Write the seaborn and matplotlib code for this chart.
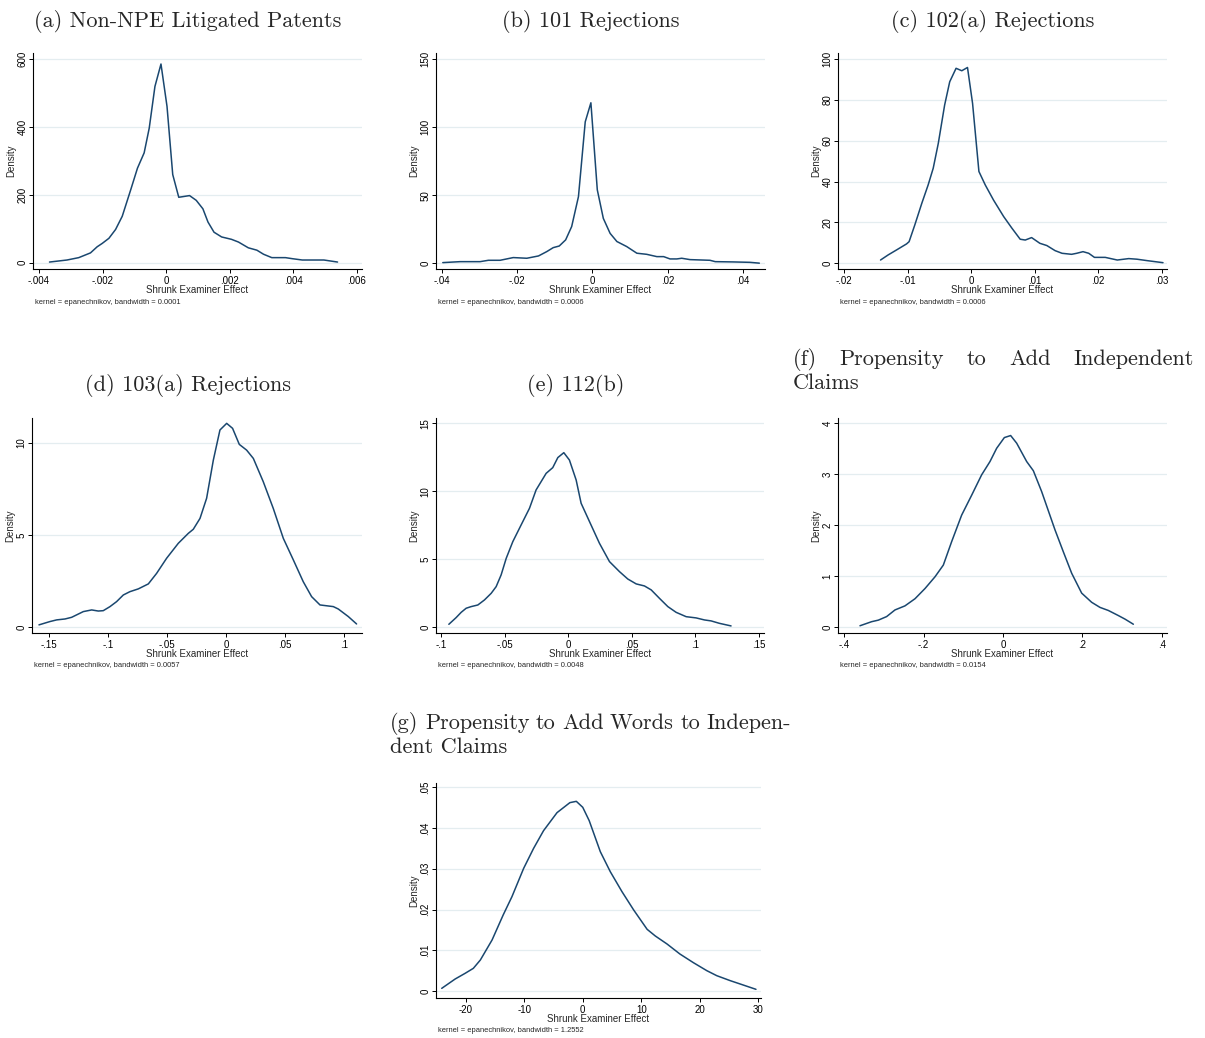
import numpy as np
import pandas as pd
import seaborn as sns
import matplotlib
matplotlib.use("Agg")
import matplotlib.pyplot as plt

# ---------------- data ----------------
a_x = [-0.00367, -0.00312, -0.00275, -0.00238, -0.00217, -0.00201, -0.0018, -0.00159, -0.00138,
       -0.00111, -0.0009, -0.00069, -0.00053, -0.00035, -0.00016, 0.00003, 0.00021, 0.0004,
       0.00074, 0.00095, 0.00116, 0.00132, 0.00151, 0.00175, 0.00206, 0.00228, 0.00259,
       0.00286, 0.00307, 0.00333, 0.00376, 0.00397, 0.00429, 0.00497, 0.0054]
a_y = [2, 8, 15, 29, 47, 57, 72, 98, 137, 216, 279, 324, 397, 520, 586, 461, 260, 193,
       198, 184, 159, 120, 90, 76, 69, 61, 44, 37, 25, 15, 15, 12, 8, 8, 2]

b_x = [-0.0397, -0.0351, -0.0298, -0.0276, -0.0245, -0.021, -0.0174, -0.0143, -0.0121, -0.0104,
       -0.0088, -0.0071, -0.0055, -0.0037, -0.0019, -0.0004, 0.0013, 0.0029, 0.0047, 0.0065,
       0.0091, 0.0118, 0.0144, 0.0171, 0.0189, 0.0206, 0.0224, 0.0237, 0.0259, 0.0312, 0.0326,
       0.0374, 0.0418, 0.0443]
b_y = [0.5, 1.2, 1.2, 2.2, 2.2, 4.2, 3.7, 5.4, 8.6, 11.5, 12.7, 17.2, 27, 49, 104, 118, 54, 33,
       22, 16, 12.3, 7.4, 6.6, 4.9, 4.9, 3.2, 3.2, 3.7, 2.7, 2.2, 1.2, 1.0, 0.7, 0.1]

c_x = [-0.0143, -0.0131, -0.0118, -0.0102, -0.0098, -0.0089, -0.0078, -0.0068, -0.006, -0.0052,
       -0.0042, -0.0034, -0.0024, -0.0015, -0.0006, 0.0002, 0.0012, 0.0022, 0.0035, 0.0051,
       0.0064, 0.0077, 0.0085, 0.0095, 0.0108, 0.0119, 0.0132, 0.0143, 0.0158, 0.0166, 0.0176,
       0.0185, 0.0194, 0.0211, 0.023, 0.0248, 0.0261, 0.0277, 0.0302]
c_y = [1.6, 4.1, 6.5, 9.5, 10.6, 18.8, 29.4, 38.4, 46.6, 58.8, 77.6, 89, 95.6, 94.4, 96, 78.4,
       45, 38.4, 31, 22.9, 17.2, 11.8, 11.4, 12.6, 9.8, 8.7, 6.2, 4.9, 4.4, 4.9, 5.7, 4.9, 2.9,
       2.9, 1.6, 2.3, 2.0, 1.3, 0.3]

d_x = [-0.1585, -0.1492, -0.1435, -0.1364, -0.1308, -0.1209, -0.1138, -0.1082, -0.104, -0.0983,
       -0.0927, -0.087, -0.0814, -0.0743, -0.0658, -0.0588, -0.0503, -0.0404, -0.0319, -0.0277,
       -0.022, -0.0164, -0.0107, -0.0051, 0.0006, 0.0056, 0.0113, 0.0175, 0.0232, 0.0316,
       0.0401, 0.0486, 0.0571, 0.0655, 0.0726, 0.0797, 0.091, 0.0952, 0.1037, 0.1107]
d_y = [0.13, 0.31, 0.4, 0.45, 0.54, 0.85, 0.94, 0.88, 0.9, 1.12, 1.39, 1.75, 1.93, 2.08, 2.35,
       2.92, 3.74, 4.55, 5.09, 5.31, 5.9, 6.99, 9.06, 10.69, 11.05, 10.78, 9.91, 9.6, 9.15,
       7.89, 6.44, 4.82, 3.65, 2.47, 1.66, 1.21, 1.12, 0.99, 0.58, 0.18]

e_x = [-0.0938, -0.0881, -0.0841, -0.0802, -0.0763, -0.071, -0.0658, -0.0605, -0.0566, -0.0527,
       -0.0487, -0.0435, -0.037, -0.0304, -0.0252, -0.0173, -0.0121, -0.0081, -0.0034, 0.001,
       0.0063, 0.0102, 0.0168, 0.0246, 0.0325, 0.0404, 0.0469, 0.0535, 0.06, 0.0653, 0.0718,
       0.0784, 0.0849, 0.0928, 0.1006, 0.1072, 0.1124, 0.119, 0.1281]
e_y = [0.22, 0.71, 1.10, 1.40, 1.52, 1.64, 2.01, 2.5, 2.99, 3.85, 5.07, 6.3, 7.52, 8.75, 10.1,
       11.32, 11.74, 12.48, 12.84, 12.3, 10.83, 9.12, 7.77, 6.18, 4.83, 4.09, 3.55, 3.19, 3.04,
       2.75, 2.13, 1.52, 1.1, 0.78, 0.69, 0.54, 0.47, 0.29, 0.1]

f_x = [-0.3605, -0.3311, -0.3143, -0.2933, -0.2723, -0.2471, -0.2218, -0.1966, -0.1714, -0.1504,
       -0.1294, -0.1042, -0.079, -0.0538, -0.0328, -0.016, 0.0034, 0.0193, 0.0345, 0.0597,
       0.0765, 0.0975, 0.1311, 0.1521, 0.1731, 0.1983, 0.2235, 0.2445, 0.2655, 0.2908, 0.3076,
       0.3286]
f_y = [0.03, 0.11, 0.14, 0.21, 0.34, 0.42, 0.56, 0.76, 0.99, 1.22, 1.68, 2.2, 2.59, 2.99, 3.25,
       3.51, 3.72, 3.76, 3.61, 3.25, 3.07, 2.66, 1.91, 1.48, 1.06, 0.67, 0.49, 0.39, 0.33, 0.23,
       0.16, 0.06]

g_x = [-24.1, -21.8, -20.1, -18.7, -17.5, -15.5, -13.6, -12.1, -10.1, -8.4, -6.7, -4.4, -2.2,
       -1.1, 0.0, 1.1, 3.0, 4.7, 6.7, 8.7, 11.0, 12.4, 14.4, 16.6, 18.9, 21.2, 22.9, 25.2, 26.9,
       29.6]
g_y = [0.00065, 0.00295, 0.00434, 0.00556, 0.00761, 0.01252, 0.01866, 0.02316, 0.03011, 0.03502,
       0.03936, 0.04378, 0.04624, 0.04656, 0.04509, 0.04182, 0.0342, 0.0293, 0.02439, 0.01989,
       0.01514, 0.0135, 0.01154, 0.00908, 0.00696, 0.00499, 0.00376, 0.00254, 0.00172, 0.00041]

titles = ["(a) Non-NPE Litigated Patents", "(b) 101 Rejections", "(c) 102(a) Rejections",
          "(d) 103(a) Rejections", "(e) 112(b)",
          "(f) Propensity to Add Independent Claims",
          "(g) Propensity to Add Words to Independent Claims"]
bandwidths = ["0.0001", "0.0006", "0.0006", "0.0057", "0.0048", "0.0154", "1.2552"]

a_xt = [-0.004, -0.002, 0, 0.002, 0.004, 0.006]
a_xl = ["-.004", "-.002", "0", ".002", ".004", ".006"]
a_yt = [0, 200, 400, 600]
a_yl = ["0", "200", "400", "600"]
b_xt = [-0.04, -0.02, 0, 0.02, 0.04]
b_xl = ["-.04", "-.02", "0", ".02", ".04"]
b_yt = [0, 50, 100, 150]
b_yl = ["0", "50", "100", "150"]
c_xt = [-0.02, -0.01, 0, 0.01, 0.02, 0.03]
c_xl = ["-.02", "-.01", "0", ".01", ".02", ".03"]
c_yt = [0, 20, 40, 60, 80, 100]
c_yl = ["0", "20", "40", "60", "80", "100"]
d_xt = [-0.15, -0.1, -0.05, 0, 0.05, 0.1]
d_xl = ["-.15", "-.1", "-.05", "0", ".05", ".1"]
d_yt = [0, 5, 10]
d_yl = ["0", "5", "10"]
e_xt = [-0.1, -0.05, 0, 0.05, 0.1, 0.15]
e_xl = ["-.1", "-.05", "0", ".05", ".1", ".15"]
e_yt = [0, 5, 10, 15]
e_yl = ["0", "5", "10", "15"]
f_xt = [-0.4, -0.2, 0, 0.2, 0.4]
f_xl = ["-.4", "-.2", "0", ".2", ".4"]
f_yt = [0, 1, 2, 3, 4]
f_yl = ["0", "1", "2", "3", "4"]
g_xt = [-20, -10, 0, 10, 20, 30]
g_xl = ["-20", "-10", "0", "10", "20", "30"]
g_yt = [0, 0.01, 0.02, 0.03, 0.04, 0.05]
g_yl = ["0", ".01", ".02", ".03", ".04", ".05"]

# ---------------- styling ----------------
sns.set_style("white")
plt.rcParams["font.family"] = ["Liberation Sans", "DejaVu Sans"]
plt.rcParams["axes.unicode_minus"] = False

W, H = 1205, 1038
fig = plt.figure(figsize=(W / 100, H / 100), dpi=100)
LINE = "#1a476f"
GRID = "#e4edf0"
TITLE_FONT = ["cmr10", "DejaVu Serif"]

panels = [
    # x, y, xticks, xlabels, yticks, ylabels, box(left,right,top,bottom px), xlim, ylim
    (a_x, a_y, a_xt, a_xl, a_yt, a_yl, (33, 362, 53, 269), (-0.00419, 0.00617), (-18.5, 618.5)),
    (b_x, b_y, b_xt, b_xl, b_yt, b_yl, (436, 765, 53, 269), (-0.0415, 0.0458), (-4.2, 154.6)),
    (c_x, c_y, c_xt, c_xl, c_yt, c_yl, (838, 1167, 53, 269), (-0.0210, 0.03083), (-2.8, 103.1)),
    (d_x, d_y, d_xt, d_xl, d_yt, d_yl, (32, 362, 418, 633), (-0.1644, 0.1153), (-0.31, 11.34)),
    (e_x, e_y, e_xt, e_xl, e_yt, e_yl, (436, 764, 418, 633), (-0.1039, 0.1540), (-0.42, 15.39)),
    (f_x, f_y, f_xt, f_xl, f_yt, f_yl, (838, 1167, 418, 633), (-0.4159, 0.4134), (-0.112, 4.104)),
    (g_x, g_y, g_xt, g_xl, g_yt, g_yl, (436, 761, 783, 998), (-25.08, 30.46), (-0.00172, 0.05106)),
]

for i, (xs, ys, xt, xl, yt, yl, box, xlim, ylim) in enumerate(panels):
    l, r, t, b = box
    ax = fig.add_axes([l / W, 1 - b / H, (r - l) / W, (b - t) / H])
    df = pd.DataFrame({"x": xs, "y": ys})
    for yv in yt:
        ax.axhline(yv, color=GRID, lw=0.9, zorder=0)
    sns.lineplot(data=df, x="x", y="y", ax=ax, color=LINE, lw=1.1, sort=False,
                 estimator=None)
    ax.set_xlim(*xlim)
    ax.set_ylim(*ylim)
    ax.set_xticks(xt)
    ax.set_xticklabels(xl)
    ax.set_yticks(yt)
    ax.set_yticklabels(yl, rotation=90, va="center")
    ax.tick_params(axis="both", which="major", labelsize=7, length=3, width=0.7,
                   direction="out", color="black", labelcolor="black")
    ax.tick_params(axis="x", pad=2)
    ax.tick_params(axis="y", pad=1)
    ax.tick_params(left=True, bottom=True)
    for s in ["top", "right"]:
        ax.spines[s].set_visible(False)
    for s in ["left", "bottom"]:
        ax.spines[s].set_color("black")
        ax.spines[s].set_linewidth(0.8)
    ax.set_xlabel("Shrunk Examiner Effect", fontsize=7, labelpad=-0.5)
    ax.set_ylabel("Density", fontsize=7, labelpad=1)
    ax.grid(False)
    # kernel note
    ax.text(2 / (r - l), -0.153, "kernel = epanechnikov, bandwidth = " + bandwidths[i],
            transform=ax.transAxes, fontsize=5.4, ha="left", va="center")


def ftext(x, y, s, **kw):
    return fig.text(x / W, 1 - y / H, s, fontsize=16, family=TITLE_FONT,
                    va="baseline", **kw)


# single-line titles (centers, baselines in px)
ftext(188, 27, titles[0], ha="center")
ftext(591, 27, titles[1], ha="center")
ftext(993, 27, titles[2], ha="center")
ftext(188, 391, titles[3], ha="center")
ftext(576, 391, titles[4], ha="center")

# justified two-line titles
fig.canvas.draw()
renderer = fig.canvas.get_renderer()


def justified(words, x0, x1, y):
    ts = [ftext(0, y, w, ha="left") for w in words]
    ws = [tt.get_window_extent(renderer).width for tt in ts]
    gap = (x1 - x0 - sum(ws)) / (len(words) - 1)
    x = x0
    for tt, w in zip(ts, ws):
        tt.set_position((x / W, 1 - y / H))
        x += w + gap


justified(["(f)", "Propensity", "to", "Add", "Independent"], 793, 1194, 365)
ftext(793, 389, "Claims", ha="left")
justified(["(g)", "Propensity", "to", "Add", "Words", "to", "Indepen-"], 390, 791, 729)
ftext(390, 753, "dent Claims", ha="left")

fig.savefig("out.png", dpi=100, facecolor="white")
